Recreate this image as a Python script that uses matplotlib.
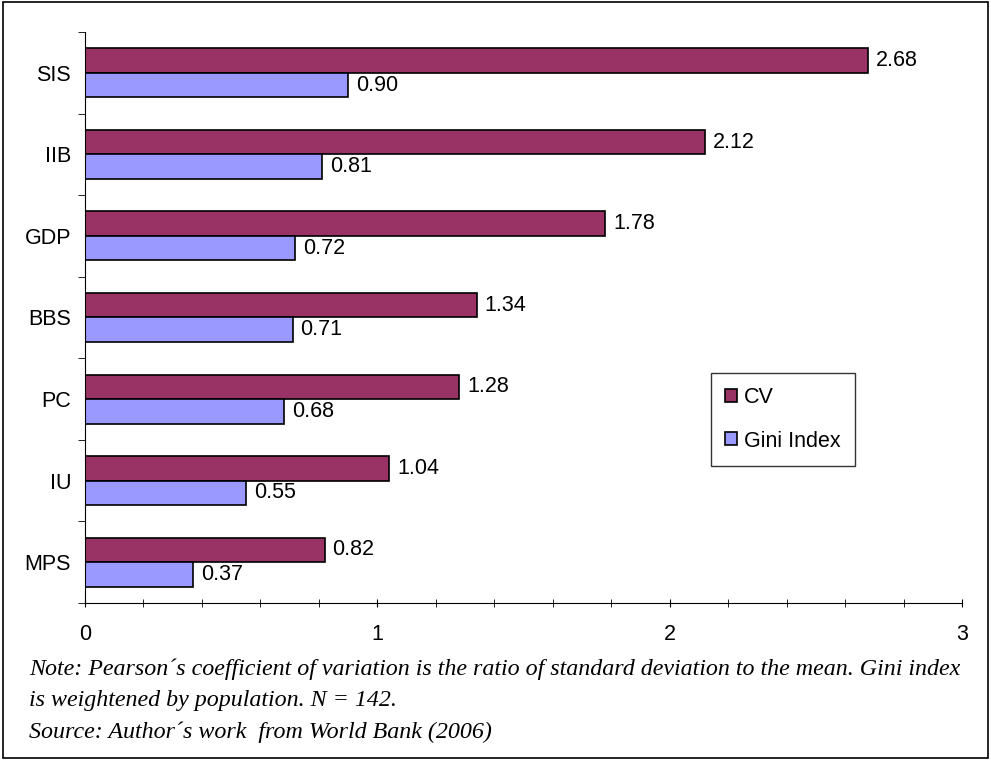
import numpy as np
import matplotlib
matplotlib.use("Agg")
import matplotlib.pyplot as plt
from matplotlib.patches import Rectangle
from matplotlib.ticker import MultipleLocator

categories = ["SIS", "IIB", "GDP", "BBS", "PC", "IU", "MPS"]
cv = [2.68, 2.12, 1.78, 1.34, 1.28, 1.04, 0.82]
gini = [0.90, 0.81, 0.72, 0.71, 0.68, 0.55, 0.37]

plt.rcParams["font.family"] = ["Liberation Sans", "DejaVu Sans"]
FS = 15.5

fig = plt.figure(figsize=(9.91, 7.6), dpi=100)
ax = fig.add_axes([0.0858, 0.2066, 0.8849, 0.7513])

n = len(categories)
y = np.arange(n)[::-1].astype(float)
h = 0.3
b1 = ax.barh(y + h / 2, cv, height=h, color="#993366", edgecolor="black", lw=1.2, label="CV")
b2 = ax.barh(y - h / 2, gini, height=h, color="#9999FF", edgecolor="black", lw=1.2, label="Gini Index")
for bars, vals in ((b1, cv), (b2, gini)):
    for r, v in zip(bars, vals):
        ax.text(v + 0.027, r.get_y() + h / 2, f"{v:.2f}", va="center", ha="left", fontsize=FS)

ax.set_xlim(0, 3)
ax.set_ylim(-0.5, n - 0.5)
ax.xaxis.set_major_locator(MultipleLocator(1))
ax.xaxis.set_minor_locator(MultipleLocator(0.2))
ax.set_yticks(y)
ax.set_yticklabels(categories)
ax.set_yticks(np.arange(n + 1) - 0.5, minor=True)
ax.tick_params(axis="y", which="major", length=0, labelsize=FS, pad=10)
ax.tick_params(axis="y", which="minor", length=5, direction="out")
ax.tick_params(axis="x", which="both", direction="inout", length=6, labelsize=FS, pad=12)
for s in ("top", "right"):
    ax.spines[s].set_visible(False)

leg = ax.legend(loc="upper left", bbox_to_anchor=(0.7138, 0.4028), frameon=True, fancybox=False,
                edgecolor="black", fontsize=FS, handlelength=0.55, handleheight=0.55,
                labelspacing=1.05, borderpad=0.65, handletextpad=0.35, borderaxespad=0)
leg.get_frame().set_linewidth(1)

note = ("Note: Pearson\u00b4s coefficient of variation is the ratio of standard deviation to the mean. Gini index\n"
        "is weightened by population. N = 142.\n"
        "Source: Author\u00b4s work  from World Bank (2006)")
fig.text(29 / 991, 1 - 658 / 760, note, fontsize=17.3, style="italic", family="Liberation Serif",
         va="top", ha="left", linespacing=1.65)

fig.patches.append(Rectangle((0.003, 0.003), 0.994, 0.994, transform=fig.transFigure,
                             fill=False, edgecolor="black", lw=1.2))

fig.savefig("out.png", dpi=100)
